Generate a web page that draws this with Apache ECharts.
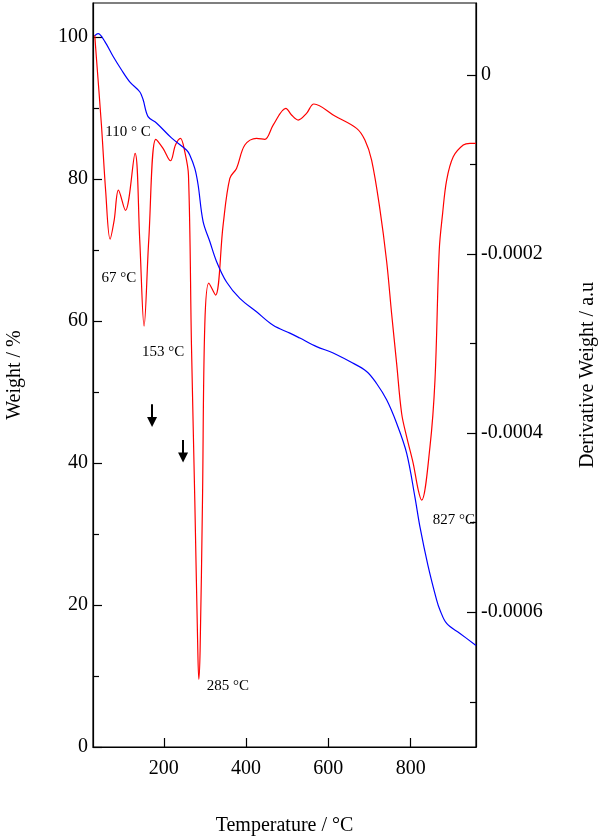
<!DOCTYPE html>
<html>
<head>
<meta charset="utf-8">
<script src="https://cdn.jsdelivr.net/npm/echarts@6/dist/echarts.min.js"></script>
<style>html,body{margin:0;padding:0;background:#fff;}#c{width:600px;height:836px;}</style>
</head>
<body>
<div id="c"></div>
<script>
// Weight (TGA) curve: temperature (°C) and weight (%)
const tempWeight = [32.2, 40.2, 56.5, 76.7, 97.1, 117.3, 141.6, 149.7, 161.8, 182.2, 218.7, 255.2, 263.2, 275.4, 283.4, 295.6, 311.9, 328.2, 352.5, 384.8, 425.4, 465.8, 506.4, 530.7, 571.4, 611.7, 652.3, 692.9, 717.2, 741.6, 765.9, 790.2, 810.4, 822.6, 842.0, 863.2, 871.2, 887.5, 919.9, 958.8];
const weightVals = [100.2, 100.5, 99.4, 97.3, 95.4, 93.7, 92.3, 91.2, 88.8, 87.9, 85.8, 84.1, 83.4, 81.5, 79.2, 74.0, 71.2, 68.4, 65.5, 63.2, 61.3, 59.4, 58.3, 57.6, 56.4, 55.5, 54.3, 52.9, 51.2, 48.9, 45.6, 41.4, 35.2, 31.0, 25.6, 20.7, 19.3, 17.4, 16.0, 14.3];

// Derivative weight (DTG) curve
const tempDeriv = [32.2, 36.3, 48.5, 58.9, 69.5, 79.5, 89.8, 106.8, 130.2, 141.6, 152.1, 163.5, 180.5, 198.2, 216.3, 228.4, 240.6, 251.0, 260.0, 267.3, 275.4, 282.7, 285.1, 288.3, 294.1, 299.7, 309.4, 325.7, 344.2, 360.5, 376.8, 397.0, 425.4, 445.6, 465.8, 496.7, 510.5, 526.6, 547.0, 564.8, 615.9, 668.6, 688.8, 705.1, 725.3, 741.6, 753.7, 765.9, 778.1, 790.3, 806.3, 818.5, 826.7, 846.9, 859.1, 869.5, 877.7, 887.5, 903.5, 927.8, 944.2, 958.8];
const derivVals = [4.47e-5, 1.90e-5, -5.59e-5, -1.304e-4, -1.832e-4, -1.62e-4, -1.285e-4, -1.512e-4, -8.75e-5, -1.844e-4, -2.804e-4, -1.844e-4, -7.18e-5, -8.19e-5, -9.58e-5, -7.82e-5, -7.07e-5, -8.57e-5, -1.117e-4, -3.017e-4, -4.749e-4, -6.424e-4, -6.748e-4, -6.424e-4, -4.749e-4, -2.793e-4, -2.324e-4, -2.458e-4, -1.676e-4, -1.154e-4, -1.043e-4, -7.82e-5, -7.07e-5, -7.18e-5, -5.59e-5, -3.72e-5, -4.47e-5, -5.03e-5, -4.28e-5, -3.24e-5, -4.58e-5, -5.96e-5, -7.26e-5, -9.50e-5, -1.50e-4, -2.08e-4, -2.663e-4, -3.221e-4, -3.780e-4, -4.041e-4, -4.339e-4, -4.637e-4, -4.749e-4, -4.153e-4, -3.408e-4, -1.955e-4, -1.545e-4, -1.173e-4, -9.13e-5, -7.82e-5, -7.63e-5, -7.63e-5];

// Axis ticks / labels
const xTicks = [200, 400, 600, 800];
const weightMajor = [0, 20, 40, 60, 80, 100];
const weightMinor = [10, 30, 50, 70, 90];
const derivMajor = [-0.0006, -0.0004, -0.0002, 0];
const derivMinor = [-0.0007, -0.0005, -0.0003, -0.0001];

// Annotations (temperature, weight-axis value, text)
const annoTemps = [113.2, 91.0, 198.4, 355.6, 904.8];
const annoWeights = [86.6, 66.0, 55.6, 8.56, 31.96];
const annoTexts = ['110 ° C', '67 °C', '153 °C', '285 °C', '827 °C'];
// Arrows (temperature, start weight, end weight)
const arrowTemps = [171.5, 246.9];
const arrowTop = [48.27, 43.23];
const arrowEnd = [45.77, 40.77];

const FONT = 'Liberation Serif';
const chart = echarts.init(document.getElementById('c'), null, {renderer: 'canvas'});

const xMin = 28, xMax = 958.8;
const wMin = 0, wMax = 104.8;
const dMin = -7.505e-4, dMax = 8.04e-5;

const axisLineStyle = {color: '#000', width: 1.2};
const labelStyle = {color: '#000', fontFamily: FONT, fontSize: 20};

chart.setOption({
  animation: false,
  backgroundColor: '#fff',
  grid: {left: 93, right: 124, top: 3, bottom: 89, show: true, borderColor: '#000', borderWidth: 1.2,
         containLabel: false, outerBoundsMode: 'none'},
  xAxis: {
    type: 'value', min: xMin, max: xMax,
    name: 'Temperature / °C', nameLocation: 'middle', nameGap: 69,
    nameTextStyle: {color: '#000', fontFamily: FONT, fontSize: 20},
    axisLine: {show: true, lineStyle: axisLineStyle},
    axisTick: {show: true, inside: true, length: 9, lineStyle: axisLineStyle, customValues: xTicks},
    axisLabel: Object.assign({margin: 12, customValues: xTicks}, labelStyle),
    splitLine: {show: false}
  },
  yAxis: [
    {
      type: 'value', position: 'left', min: wMin, max: wMax,
      name: 'Weight / %', nameLocation: 'middle', nameGap: 68, nameRotate: 90,
      nameTextStyle: {color: '#000', fontFamily: FONT, fontSize: 20},
      axisLine: {show: true, lineStyle: axisLineStyle},
      axisTick: {show: true, inside: true, length: 9, lineStyle: axisLineStyle, customValues: weightMajor},
      axisLabel: Object.assign({margin: 5, customValues: weightMajor}, labelStyle),
      splitLine: {show: false}
    },
    {
      type: 'value', position: 'right', min: dMin, max: dMax,
      name: 'Derivative Weight / a.u', nameLocation: 'middle', nameGap: 102, nameRotate: 90,
      nameTextStyle: {color: '#000', fontFamily: FONT, fontSize: 20},
      axisLine: {show: true, lineStyle: axisLineStyle},
      axisTick: {show: true, inside: true, length: 9, lineStyle: axisLineStyle, customValues: derivMajor},
      axisLabel: Object.assign({margin: 5, customValues: derivMajor,
        formatter: v => (Math.abs(v) < 1e-12 ? '0' : v.toFixed(4))}, labelStyle),
      splitLine: {show: false}
    },
    {
      type: 'value', position: 'left', min: wMin, max: wMax,
      axisLine: {show: false},
      axisTick: {show: true, inside: true, length: 6, lineStyle: axisLineStyle, customValues: weightMinor},
      axisLabel: {show: false}, splitLine: {show: false}
    },
    {
      type: 'value', position: 'right', min: dMin, max: dMax,
      axisLine: {show: false},
      axisTick: {show: true, inside: true, length: 6, lineStyle: axisLineStyle, customValues: derivMinor},
      axisLabel: {show: false}, splitLine: {show: false}
    }
  ],
  series: [
    {
      type: 'line', name: 'Weight', xAxisIndex: 0, yAxisIndex: 0,
      data: tempWeight.map((t, i) => [t, weightVals[i]]),
      showSymbol: false, smooth: 0.35,
      lineStyle: {color: '#0000ff', width: 1.2},
      itemStyle: {color: '#0000ff'},
      z: 3,
      markPoint: {
        silent: true, symbol: 'circle', symbolSize: 1,
        itemStyle: {color: 'rgba(0,0,0,0)'},
        label: {show: true, position: 'inside', color: '#000', fontFamily: FONT, fontSize: 15, formatter: p => p.name},
        data: annoTexts.map((s, i) => ({name: s, coord: [annoTemps[i], annoWeights[i]]}))
      },
      markLine: {
        silent: true, symbol: ['none', 'triangle'], symbolSize: [10, 10],
        lineStyle: {color: '#000', width: 2, type: 'solid'},
        itemStyle: {color: '#000'},
        label: {show: false},
        data: arrowTemps.map((t, i) => [{coord: [t, arrowTop[i]]}, {coord: [t, arrowEnd[i]]}])
      }
    },
    {
      type: 'line', name: 'Derivative', xAxisIndex: 0, yAxisIndex: 1,
      data: tempDeriv.map((t, i) => [t, derivVals[i]]),
      showSymbol: false, smooth: 0.35,
      lineStyle: {color: '#ff0000', width: 1.2},
      itemStyle: {color: '#ff0000'},
      z: 2
    }
  ]
});
</script>
</body>
</html>
